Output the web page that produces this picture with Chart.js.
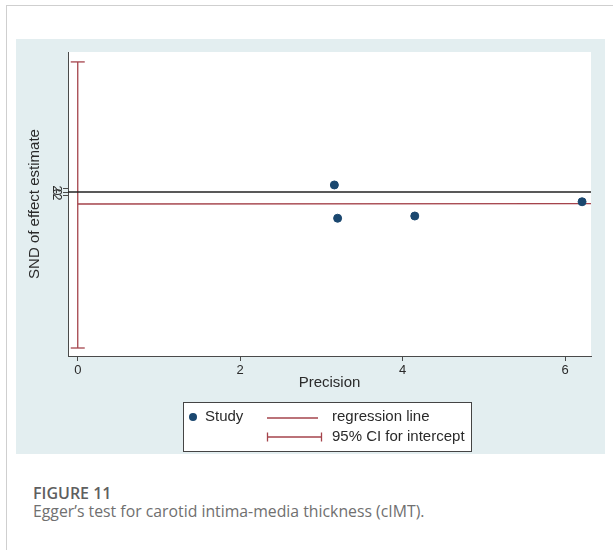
<!DOCTYPE html>
<html>
<head>
<meta charset="utf-8">
<script src="https://cdn.jsdelivr.net/npm/chart.js@4.4.1/dist/chart.umd.min.js"></script>
<style>
  html, body { margin: 0; padding: 0; background: #ffffff; }
  body { width: 613px; height: 550px; position: relative; overflow: hidden; }
  #frame { position: absolute; left: 6px; top: 5px; width: 620px; height: 560px;
           border-top: 1px solid #cfcfcf; border-left: 1px solid #cfcfcf; }
  #panel { position: absolute; left: 16px; top: 39px; width: 589px; height: 415px; }
  .cap1 { position: absolute; left: 33px; top: 482px; font-family: "Open Sans", "Noto Sans", sans-serif;
          font-size: 16px; line-height: 22px; font-weight: 600; color: #5f5f5f; white-space: nowrap; }
  .cap2 { position: absolute; left: 33px; top: 500px; font-family: "Open Sans", "Noto Sans", sans-serif;
          font-size: 15.8px; line-height: 22px; color: #707070; white-space: nowrap; }
</style>
</head>
<body>
<div id="frame"></div>
<div id="panel"><canvas id="c"></canvas></div>
<div class="cap1">FIGURE 11</div>
<div class="cap2">Egger’s test for carotid intima-media thickness (cIMT).</div>
<script>
// ---- data ----
const precision = [3.16, 3.20, 4.15, 6.21];
const snd = [4.4, -16.4, -15.0, -6.1];
const regressionX = [0, 6.32];
const regressionY = [-7.5, -7.3];
const ciX = [0, 0];
const ciY = [-97.5, 81.3];
const zeroX = [-0.12, 6.32];
const zeroY = [0, 0];
const xTicks = [0, 2, 4, 6];
const yTicks = [-2, 0, 2];
const seriesLabels = ["Study", "regression line", "95% CI for intercept"];
const xTitle = "Precision";
const yTitle = "SND of effect estimate";

const NAVY = '#1a476f';
const RED = '#a5444c';
const AXIS = '#4a4a4a';
const TXT = '#2a2a2a';
const FONT = '"Liberation Sans", Arial, sans-serif';

const pts = (xs, ys) => xs.map((x, i) => ({ x: x, y: ys[i] }));

const bgPlugin = {
  id: 'bg',
  beforeDraw(chart) {
    const { ctx, chartArea: a, width, height } = chart;
    ctx.save();
    ctx.fillStyle = '#e3eef0';
    ctx.fillRect(0, 0, width, height);
    ctx.fillStyle = '#ffffff';
    ctx.fillRect(a.left, a.top, a.right - a.left, a.bottom - a.top);
    ctx.restore();
  }
};

const legendPlugin = {
  id: 'customLegend',
  afterDraw(chart) {
    const { ctx } = chart;
    const ds = chart.data.datasets;
    const bx = 167, by = 363, bw = 288, bh = 49;
    ctx.save();
    ctx.fillStyle = '#ffffff';
    ctx.fillRect(bx, by, bw, bh);
    ctx.strokeStyle = '#444';
    ctx.lineWidth = 1;
    ctx.strokeRect(bx + 0.5, by + 0.5, bw, bh);
    ctx.font = '15px ' + FONT;
    ctx.fillStyle = TXT;
    ctx.textBaseline = 'middle';
    ctx.textAlign = 'left';
    // Study marker
    ctx.beginPath();
    ctx.fillStyle = NAVY;
    ctx.arc(177, 378, 4, 0, Math.PI * 2);
    ctx.fill();
    ctx.fillStyle = TXT;
    ctx.fillText(ds[0].label, 189, 378);
    // regression line
    ctx.strokeStyle = RED;
    ctx.lineWidth = 1.3;
    ctx.beginPath();
    ctx.moveTo(251, 379); ctx.lineTo(302, 379);
    ctx.stroke();
    ctx.fillText(ds[1].label, 316, 378);
    // CI sample
    ctx.beginPath();
    ctx.moveTo(251, 398); ctx.lineTo(306, 398);
    ctx.moveTo(251.5, 393.5); ctx.lineTo(251.5, 402.5);
    ctx.moveTo(305.5, 393.5); ctx.lineTo(305.5, 402.5);
    ctx.stroke();
    ctx.fillText(ds[2].label, 316, 398);
    ctx.restore();
  }
};

new Chart(document.getElementById('c'), {
  type: 'scatter',
  data: {
    datasets: [
      { label: seriesLabels[0], data: pts(precision, snd), backgroundColor: NAVY, borderColor: NAVY,
        pointRadius: 4, pointHoverRadius: 4, order: 0 },
      { label: seriesLabels[1], data: pts(regressionX, regressionY), showLine: true, borderColor: RED,
        borderWidth: 1.3, pointRadius: 0, order: 2 },
      { label: seriesLabels[2], data: pts(ciX, ciY), showLine: true, borderColor: RED, borderWidth: 1.3,
        pointStyle: 'line', pointRadius: 7, pointBorderWidth: 1.3, pointBorderColor: RED, order: 3 },
      { label: '', data: pts(zeroX, zeroY), showLine: true, borderColor: '#222222', borderWidth: 1.4,
        pointRadius: 0, order: 1 }
    ]
  },
  options: {
    responsive: true,
    maintainAspectRatio: false,
    animation: false,
    devicePixelRatio: 1,
    layout: { padding: { left: 0, top: 13, right: 14, bottom: 62 } },
    plugins: { legend: { display: false }, tooltip: { enabled: false } },
    scales: {
      x: {
        type: 'linear', min: -0.12, max: 6.32,
        afterBuildTicks: (s) => { s.ticks = xTicks.map(v => ({ value: v })); },
        afterFit: (s) => { s.height = 36; },
        grid: { drawOnChartArea: false, drawTicks: true, tickLength: 5, color: AXIS },
        border: { display: true, color: AXIS, width: 1 },
        ticks: { autoSkip: false, padding: 2, color: TXT, font: { family: FONT, size: 13 } },
        title: { display: true, text: xTitle, color: TXT, font: { family: FONT, size: 15 },
                 padding: { top: 0, bottom: 0 } }
      },
      y: {
        type: 'linear', min: -102.5, max: 87.5,
        afterBuildTicks: (s) => { s.ticks = yTicks.map(v => ({ value: v })); },
        afterFit: (s) => { s.width = 52; },
        grid: { drawOnChartArea: false, drawTicks: true, tickLength: 5, color: AXIS },
        border: { display: true, color: AXIS, width: 1 },
        ticks: { autoSkip: false, padding: 1, minRotation: -90, maxRotation: -90, crossAlign: 'center',
                 color: TXT, font: { family: FONT, size: 12 } },
        title: { display: true, text: yTitle, color: TXT, font: { family: FONT, size: 15 },
                 padding: { top: 10, bottom: 0 } }
      }
    }
  },
  plugins: [bgPlugin, legendPlugin]
});
</script>
</body>
</html>
